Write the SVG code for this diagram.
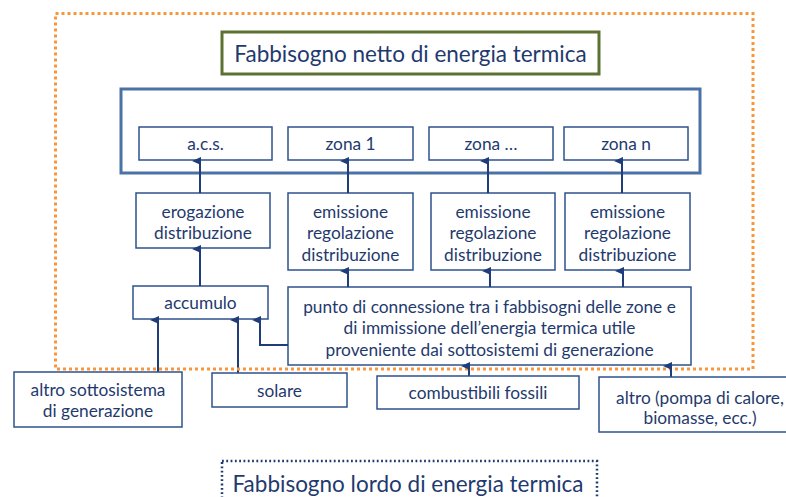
<svg xmlns="http://www.w3.org/2000/svg" width="786" height="497" viewBox="0 0 786 497">
<defs>
<marker id="ah" markerWidth="8" markerHeight="9" refX="4" refY="8" orient="auto-start-reverse" markerUnits="userSpaceOnUse" viewBox="0 0 8 9">
<path d="M0,9 L4,0 L8,9 Z" fill="#1f3d7a"/>
</marker>
<style>
text{font-family:Lato,"Open Sans","Liberation Sans",sans-serif;fill:#1f3a6e;text-anchor:middle;dominant-baseline:central;font-size:17.3px}
.box{fill:#fff;stroke:#2f528f;stroke-width:1.5}
.big{font-size:22.5px}
.conn path{fill:none;stroke:#1f3d7a;stroke-width:2}
</style>
</defs>
<rect width="786" height="497" fill="#fff"/>
<g id="netto"><rect x="222" y="32" width="377" height="42" fill="#fff" stroke="#5c7232" stroke-width="3"/><text class="big" x="410.5" y="53">Fabbisogno netto di energia termica</text></g>
<g id="zone-group"><rect x="121" y="89" width="579" height="84" fill="none" stroke="#4a72a6" stroke-width="3"/></g>
<g id="acs"><rect class="box" x="139" y="127" width="133" height="33"/><text x="205.5" y="143.5">a.c.s.</text></g>
<g id="zona1"><rect class="box" x="288" y="127" width="125" height="33"/><text x="350.5" y="143.5">zona 1</text></g>
<g id="zonadots"><rect class="box" x="429" y="127" width="124" height="33"/><text x="491" y="143.5">zona …</text></g>
<g id="zonan"><rect class="box" x="564" y="127" width="124" height="33"/><text x="626" y="143.5">zona n</text></g>
<g id="erogazione"><rect class="box" x="136" y="193" width="134" height="55"/><text x="203" y="211">erogazione</text><text x="203" y="232">distribuzione</text></g>
<g id="emissione1"><rect class="box" x="288" y="193" width="125" height="77"/><text x="350.5" y="211">emissione</text><text x="350.5" y="232">regolazione</text><text x="350.5" y="254">distribuzione</text></g>
<g id="emissione2"><rect class="box" x="431" y="193" width="124" height="77"/><text x="493" y="211">emissione</text><text x="493" y="232">regolazione</text><text x="493" y="254">distribuzione</text></g>
<g id="emissione3"><rect class="box" x="565" y="193" width="125" height="77"/><text x="627.5" y="211">emissione</text><text x="627.5" y="232">regolazione</text><text x="627.5" y="254">distribuzione</text></g>
<g id="accumulo"><rect class="box" x="133" y="286" width="135" height="33"/><text x="200.5" y="302.5">accumulo</text></g>
<g id="punto"><rect class="box" x="288" y="287" width="403" height="78"/><text x="489.5" y="306">punto di connessione tra i fabbisogni delle zone e</text><text x="489.5" y="327">di immissione dell’energia termica utile</text><text x="489.5" y="349">proveniente dai sottosistemi di generazione</text></g>
<g class="conn" id="connectors">
<path d="M200,193 V161" marker-end="url(#ah)"/>
<path d="M348,193 V161" marker-end="url(#ah)"/>
<path d="M488,193 V161" marker-end="url(#ah)"/>
<path d="M622,193 V161" marker-end="url(#ah)"/>
<path d="M200,286 V249" marker-end="url(#ah)"/>
<path d="M348,287 V271" marker-end="url(#ah)"/>
<path d="M490,287 V271" marker-end="url(#ah)"/>
<path d="M623,287 V271" marker-end="url(#ah)"/>
<path d="M158,372 V320" marker-end="url(#ah)"/>
<path d="M238,373 V320" marker-end="url(#ah)"/>
<path d="M288,345 H260 V320" marker-end="url(#ah)"/>
</g>
<rect x="55.5" y="13.5" width="697.5" height="355.5" fill="none" stroke="#f7963c" stroke-width="3" stroke-dasharray="3 3"/>
<g class="conn" id="connectors-bottom">
<path d="M469,376 V366" marker-end="url(#ah)"/>
<path d="M671,377 V366" marker-end="url(#ah)"/>
</g>
<g id="altro-sottosistema"><rect class="box" x="14" y="372" width="168" height="55"/><text x="98" y="389">altro sottosistema</text><text x="98" y="410">di generazione</text></g>
<g id="solare"><rect class="box" x="212" y="373" width="135" height="34"/><text x="279.5" y="390">solare</text></g>
<g id="combustibili"><rect class="box" x="377" y="376" width="202" height="33"/><text x="478" y="392.5">combustibili fossili</text></g>
<g id="altro-pompa"><rect class="box" x="599" y="377" width="200" height="55"/><text x="700" y="397">altro (pompa di calore,</text><text x="700" y="417">biomasse, ecc.)</text></g>
<g id="lordo"><rect x="222" y="461" width="375" height="50" fill="#fff" stroke="#1f3a6e" stroke-width="2.5" stroke-dasharray="1.8 2.5"/><text class="big" x="408" y="483">Fabbisogno lordo di energia termica</text></g>
</svg>
